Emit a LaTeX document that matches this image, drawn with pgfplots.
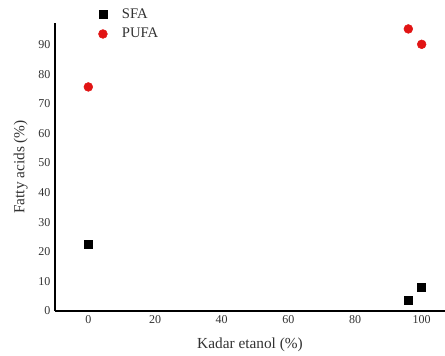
\documentclass[border=0pt]{standalone}
\usepackage{pgfplots}
\pgfplotsset{compat=1.18}
\usepackage{fontspec}
\setmainfont{Liberation Serif}
\definecolor{ptred}{RGB}{225,20,20}
\definecolor{txt}{RGB}{50,50,50}
\pgfplotsset{widelegend/.style={legend image code/.code={\draw[mark repeat=2,mark phase=2,##1] plot coordinates {(0cm,0cm) (0.3cm,0cm) (0.6cm,0cm)}; \path ([xshift=-3.3pt]0.3cm,0cm) ([xshift=12pt]0.3cm,0cm);}}}
\begin{document}
\begin{tikzpicture}
\begin{axis}[
  scale only axis,
  width=292.5pt, height=216pt,
  xmin=-10, xmax=107, ymin=0, ymax=97.3,
  axis x line*=bottom, axis y line*=left,
  axis line style={line width=1pt, -},
  xtick={0,20,40,60,80,100},
  ytick={0,10,20,30,40,50,60,70,80,90},
  major tick length=0pt,
  tick label style={font=\fontsize{9}{10}\selectfont, text=txt},
  /pgf/number format/assume math mode=true,
  xlabel={Kadar etanol (\%)}, ylabel={Fatty acids (\%)},
  label style={font=\fontsize{11.5}{13}\selectfont, text=txt},
  xlabel style={yshift=-4pt},
  ylabel style={yshift=1pt},
  legend style={at={(0.1,1.07)}, anchor=north west, draw=none, fill=none,
    font=\fontsize{11}{13}\selectfont, text=txt, row sep=2pt},
  legend cell align=left,
  clip=false,
]
\addplot[only marks, mark=square*, mark size=3pt, black, widelegend] coordinates {(0,22.5) (96,3.5) (100,8.1)};
\addlegendentry{SFA}
\addplot[only marks, mark=*, mark size=3.3pt, ptred, mark options={draw=ptred, fill=ptred}, widelegend] coordinates {(0,75.7) (96,95.3) (100,90.1)};
\addlegendentry{PUFA}
\end{axis}
\pgfresetboundingbox
\path ([xshift=-41.25pt,yshift=-33pt]current axis.south west) rectangle ([yshift=17.25pt]current axis.north east);
\end{tikzpicture}
\end{document}
